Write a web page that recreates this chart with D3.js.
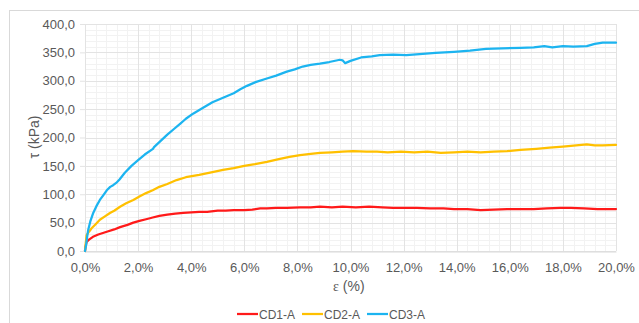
<!DOCTYPE html>
<html>
<head>
<meta charset="utf-8">
<script src="https://cdn.jsdelivr.net/npm/d3@7"></script>
<style>
  html, body { margin: 0; padding: 0; background: #fff; }
  svg { display: block; }
  text { font-family: "Liberation Sans", Arial, sans-serif; fill: #595959; }
</style>
</head>
<body>
<svg id="chart" width="639" height="323"></svg>
<script>
// Shear stress τ (kPa) against strain ε (%) for three specimens
const seriesNames = ["CD1-A", "CD2-A", "CD3-A"];
const seriesColors = ["#ff1a1a", "#ffc000", "#1cb4f0"];

const cd1Strain = [0,0.02,0.06,0.15,0.3,0.5,0.82,1.1,1.32,1.6,1.82,2.05,2.3,2.55,2.8,3.1,3.4,3.7,4.0,4.3,4.6,5.0,5.3,5.6,6.0,6.3,6.6,6.85,7.2,7.6,8.1,8.5,8.85,9.3,9.7,10.2,10.7,11.2,11.6,12.0,12.5,13.0,13.5,13.9,14.4,14.9,15.4,15.9,16.4,16.9,17.4,17.9,18.3,18.8,19.3,20.0];
const cd1Tau    = [0,8,16,20,25,29,34,38,42,46,50,53,56,59,62,64,66,67,68,69,69,71,71,72,72,73,75,75,76,76,77,77,78,77,78,77,78,77,76,76,76,75,75,74,74,72,73,74,74,74,75,76,76,75,74,74];

const cd2Strain = [0,0.03,0.06,0.15,0.25,0.4,0.56,0.75,0.94,1.1,1.32,1.55,1.82,2.05,2.3,2.55,2.8,3.1,3.45,3.8,4.3,4.8,5.2,5.6,6.0,6.4,6.85,7.3,7.7,8.1,8.5,8.85,9.3,9.7,10.1,10.6,11.0,11.4,11.9,12.4,12.9,13.4,13.9,14.4,14.9,15.4,15.9,16.4,17.0,17.5,18.0,18.5,18.9,19.2,19.5,20.0];
const cd2Tau    = [0,15,28,34,40,47,55,61,67,71,78,84,90,96,102,107,113,118,125,130,134,139,143,146,150,153,157,162,166,169,171,173,174,175,176,175,175,174,175,174,175,173,174,175,174,175,176,178,180,182,184,186,188,186,186,187];

const cd3Strain = [0,0.04,0.08,0.12,0.2,0.31,0.43,0.56,0.7,0.82,0.95,1.06,1.2,1.3,1.5,1.75,2.0,2.25,2.56,2.6,2.85,3.1,3.35,3.58,3.8,4.07,4.4,4.8,5.2,5.6,5.85,6.1,6.45,6.85,7.2,7.6,7.9,8.2,8.5,8.85,9.2,9.6,9.7,9.8,10.0,10.4,10.8,11.1,11.6,12.1,12.6,13.2,13.9,14.5,15.1,15.7,16.4,16.9,17.3,17.6,18.0,18.4,18.9,19.2,19.5,20.0];
const cd3Tau    = [0,10,25,37,52,67,79,90,99,107,113,116,121,126,138,150,160,170,180,183,194,205,215,224,233,242,251,262,270,278,285,291,298,304,309,316,320,325,328,330,333,337,336,331,335,341,343,345,346,345,347,349,351,353,356,357,358,359,361,359,361,360,361,365,367,367];

const xTicks = [0,2,4,6,8,10,12,14,16,18,20];
const yTicks = [0,50,100,150,200,250,300,350,400];

const xTitle = "ε";
const xTitleRest = " (%)";
const yTitle = "τ (kPa)";

const series = [
  { name: seriesNames[0], color: seriesColors[0], pts: cd1Strain.map((e, i) => [e, cd1Tau[i]]) },
  { name: seriesNames[1], color: seriesColors[1], pts: cd2Strain.map((e, i) => [e, cd2Tau[i]]) },
  { name: seriesNames[2], color: seriesColors[2], pts: cd3Strain.map((e, i) => [e, cd3Tau[i]]) }
];

const locale = d3.formatLocale({ decimal: ",", thousands: ".", grouping: [3], currency: ["", ""] });
const fmtY = locale.format(".1f");
const fmtX = d => locale.format(".1f")(d) + "%";

const svg = d3.select("#chart");

// Chart-area frame
svg.append("rect")
  .attr("x", 9.5).attr("y", 10.5)
  .attr("width", 660).attr("height", 340)
  .attr("fill", "none").attr("stroke", "#d9d9d9").attr("stroke-width", 1);

const plot = { left: 85, right: 616, top: 24, bottom: 251 };
const x = d3.scaleLinear().domain([0, 20]).range([plot.left, plot.right]);
const y = d3.scaleLinear().domain([0, 400]).range([plot.bottom, plot.top]);

// Minor gridlines (major / 5)
const g = svg.append("g");
g.selectAll("line.minx").data(d3.range(0, 20.001, 0.4)).join("line")
  .attr("x1", d => Math.round(x(d)) + 0.5).attr("x2", d => Math.round(x(d)) + 0.5)
  .attr("y1", plot.top).attr("y2", plot.bottom)
  .attr("stroke", "#f2f2f2");
g.selectAll("line.miny").data(d3.range(0, 400.001, 10)).join("line")
  .attr("y1", d => Math.round(y(d)) + 0.5).attr("y2", d => Math.round(y(d)) + 0.5)
  .attr("x1", plot.left).attr("x2", plot.right)
  .attr("stroke", "#f2f2f2");

// Major gridlines
g.selectAll("line.majx").data(xTicks).join("line")
  .attr("x1", d => Math.round(x(d)) + 0.5).attr("x2", d => Math.round(x(d)) + 0.5)
  .attr("y1", plot.top).attr("y2", plot.bottom)
  .attr("stroke", "#e3e3e3");
g.selectAll("line.majy").data(yTicks).join("line")
  .attr("y1", d => Math.round(y(d)) + 0.5).attr("y2", d => Math.round(y(d)) + 0.5)
  .attr("x1", plot.left).attr("x2", plot.right)
  .attr("stroke", "#e3e3e3");

// Axes
const xAxis = svg.append("g")
  .attr("transform", `translate(0,${plot.bottom + 0.5})`)
  .call(d3.axisBottom(x).tickValues(xTicks).tickFormat(fmtX).tickSize(0).tickPadding(11));
xAxis.select(".domain").attr("stroke", "#d9d9d9");
xAxis.selectAll("text").attr("font-size", 13).attr("fill", "#595959")
  .style("font-family", "'Liberation Sans', Arial, sans-serif");

const yAxis = svg.append("g")
  .attr("transform", `translate(${plot.left},0)`)
  .call(d3.axisLeft(y).tickValues(yTicks).tickFormat(fmtY).tickSize(5).tickPadding(5));
yAxis.select(".domain").remove();
yAxis.selectAll(".tick line").attr("stroke", "#e3e3e3");
yAxis.selectAll("text").attr("font-size", 13).attr("fill", "#595959")
  .style("font-family", "'Liberation Sans', Arial, sans-serif");

// Series lines
const line = d3.line().x(d => x(d[0])).y(d => y(d[1]));
svg.append("g").selectAll("path").data(series).join("path")
  .attr("d", d => line(d.pts))
  .attr("fill", "none")
  .attr("stroke", d => d.color)
  .attr("stroke-width", 2.25)
  .attr("stroke-linejoin", "round")
  .attr("stroke-linecap", "round");

// Axis titles
const xt = svg.append("text")
  .attr("x", 333).attr("y", 291)
  .attr("font-size", 14);
xt.append("tspan").style("font-family", "'Liberation Serif', serif").text(xTitle);
xt.append("tspan").text(xTitleRest);

svg.append("text")
  .attr("transform", "translate(39,137) rotate(-90)")
  .attr("text-anchor", "middle")
  .attr("font-size", 14)
  .text(yTitle);

// Legend
const legendX = [237, 302, 367];
const lg = svg.append("g").selectAll("g").data(series).join("g")
  .attr("transform", (d, i) => `translate(${legendX[i]},314)`);
lg.append("line")
  .attr("x1", 0).attr("x2", 21).attr("y1", 0).attr("y2", 0)
  .attr("stroke", d => d.color).attr("stroke-width", 2.25);
lg.append("text")
  .attr("x", 22).attr("y", 4.5)
  .attr("font-size", 12)
  .text(d => d.name);
</script>
</body>
</html>
